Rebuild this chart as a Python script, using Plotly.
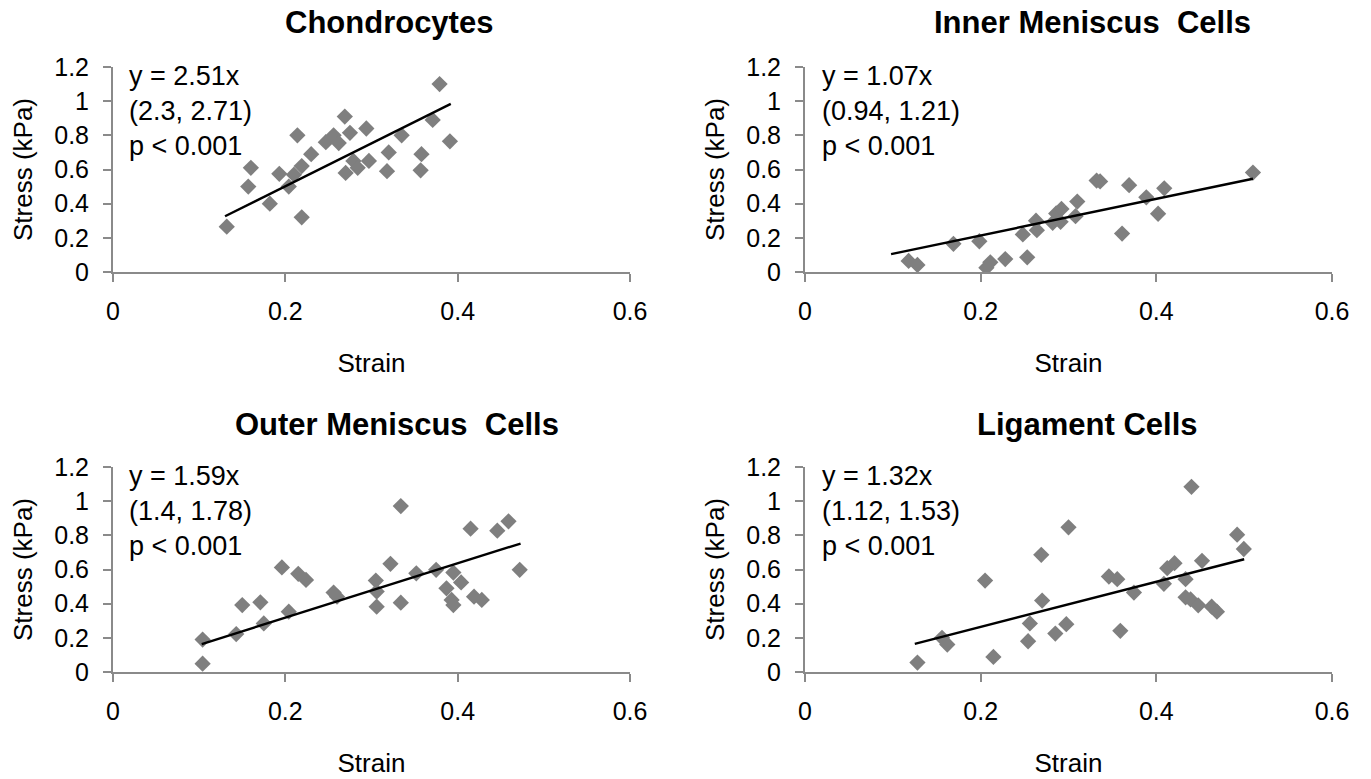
import plotly.graph_objects as go

# ---------------- data ----------------
titles = ["Chondrocytes", "Inner Meniscus\u00a0 Cells", "Outer Meniscus\u00a0 Cells", "Ligament Cells"]
slopes = [2.51, 1.07, 1.59, 1.32]
eq_text = ["y = 2.51x", "y = 1.07x", "y = 1.59x", "y = 1.32x"]
ci_text = ["(2.3, 2.71)", "(0.94, 1.21)", "(1.4, 1.78)", "(1.12, 1.53)"]
p_text = ["p < 0.001", "p < 0.001", "p < 0.001", "p < 0.001"]

chondro_strain = [0.132, 0.157, 0.160, 0.182, 0.193, 0.204, 0.210, 0.214, 0.219, 0.219,
                  0.230, 0.247, 0.256, 0.262, 0.269, 0.275, 0.270, 0.279, 0.284, 0.294,
                  0.297, 0.320, 0.318, 0.335, 0.358, 0.357, 0.371, 0.379, 0.391]
chondro_stress = [0.265, 0.50, 0.61, 0.40, 0.575, 0.50, 0.57, 0.80, 0.32, 0.62,
                  0.69, 0.76, 0.80, 0.755, 0.91, 0.815, 0.58, 0.65, 0.61, 0.84,
                  0.65, 0.70, 0.59, 0.80, 0.69, 0.595, 0.89, 1.10, 0.765]

inner_strain = [0.118, 0.128, 0.169, 0.1985, 0.2065, 0.211, 0.228, 0.253, 0.248, 0.263,
                0.264, 0.282, 0.286, 0.292, 0.291, 0.308, 0.310, 0.332, 0.336, 0.361,
                0.369, 0.3886, 0.402, 0.409, 0.510]
inner_stress = [0.065, 0.041, 0.165, 0.18, 0.025, 0.057, 0.076, 0.086, 0.22, 0.30,
                0.245, 0.288, 0.343, 0.369, 0.294, 0.327, 0.412, 0.535, 0.53, 0.225,
                0.508, 0.437, 0.341, 0.49, 0.582]

outer_strain = [0.104, 0.104, 0.143, 0.150, 0.171, 0.175, 0.196, 0.204, 0.215, 0.224,
                0.256, 0.260, 0.305, 0.306, 0.306, 0.322, 0.334, 0.334, 0.352, 0.375,
                0.387, 0.395, 0.393, 0.395, 0.404, 0.415, 0.419, 0.428, 0.446, 0.459,
                0.472]
outer_stress = [0.190, 0.049, 0.222, 0.392, 0.408, 0.284, 0.612, 0.353, 0.575, 0.539,
                0.465, 0.441, 0.535, 0.471, 0.382, 0.633, 0.971, 0.406, 0.578, 0.598,
                0.490, 0.582, 0.422, 0.392, 0.524, 0.839, 0.441, 0.422, 0.827, 0.882,
                0.598]

lig_strain = [0.128, 0.156, 0.162, 0.205, 0.2145, 0.254, 0.256, 0.269, 0.270, 0.285,
              0.2975, 0.300, 0.346, 0.3555, 0.359, 0.3745, 0.4086, 0.4124, 0.4207, 0.4333,
              0.4333, 0.440, 0.439, 0.4477, 0.452, 0.463, 0.469, 0.492, 0.4996]
lig_stress = [0.055, 0.200, 0.161, 0.535, 0.088, 0.180, 0.284, 0.686, 0.418, 0.225,
              0.280, 0.847, 0.559, 0.543, 0.241, 0.465, 0.516, 0.608, 0.637, 0.543,
              0.437, 1.084, 0.425, 0.390, 0.651, 0.382, 0.353, 0.804, 0.720]

fit_x_ranges = [[0.130, 0.392], [0.098, 0.510], [0.103, 0.473], [0.125, 0.500]]

x_tick_vals = [0, 0.2, 0.4, 0.6]
x_tick_text = ["0", "0.2", "0.4", "0.6"]
y_tick_vals = [0, 0.2, 0.4, 0.6, 0.8, 1.0, 1.2]
y_tick_text = ["0", "0.2", "0.4", "0.6", "0.8", "1", "1.2"]

strains = [chondro_strain, inner_strain, outer_strain, lig_strain]
stresses = [chondro_stress, inner_stress, outer_stress, lig_stress]

# ---------------- layout ----------------
W, H = 1371, 779
FONT = "Liberation Sans, Arial, sans-serif"


def fx_(px):
    return px / W


def fy_(py):
    return 1 - py / H


x_px = [(113, 630), (805, 1332), (113, 630), (805, 1332)]
y_px = [(272, 67), (272, 67), (672, 467), (672, 467)]
title_pos = [(389, 22), (1092, 23), (397, 424), (1087, 424)]

AXIS_COLOR = "#8a8a8a"
MARKER_COLOR = "#7f7f7f"

fig = go.Figure()
layout = dict(
    template="none",
    width=W, height=H,
    margin=dict(l=0, r=0, t=0, b=0, pad=0),
    paper_bgcolor="white", plot_bgcolor="white",
    showlegend=False,
    font=dict(family=FONT, color="black", size=22),
    annotations=[],
)

for i in range(4):
    sfx = "" if i == 0 else str(i + 1)
    xa, ya = "x" + sfx, "y" + sfx
    fig.add_trace(go.Scatter(
        x=strains[i], y=stresses[i], mode="markers",
        marker=dict(symbol="diamond", size=12.5, color=MARKER_COLOR, line=dict(width=0)),
        xaxis=xa, yaxis=ya, hoverinfo="x+y",
    ))
    fxr = fit_x_ranges[i]
    fig.add_trace(go.Scatter(
        x=fxr, y=[slopes[i] * v for v in fxr], mode="lines",
        line=dict(color="black", width=2.4),
        xaxis=xa, yaxis=ya, hoverinfo="skip",
    ))
    layout["xaxis" + sfx] = dict(
        domain=[fx_(x_px[i][0]), fx_(x_px[i][1])], anchor=ya, range=[0, 0.6], automargin=False,
        tickvals=x_tick_vals, ticktext=x_tick_text,
        showline=True, linecolor=AXIS_COLOR, linewidth=2,
        ticks="outside", ticklen=8, tickwidth=2, tickcolor=AXIS_COLOR,
        showgrid=False, zeroline=False,
        tickfont=dict(size=25, family=FONT, color="black"),
        ticklabelstandoff=8,
        title=dict(text="Strain", font=dict(size=26, family=FONT, color="black"), standoff=30),
        fixedrange=True,
    )
    layout["yaxis" + sfx] = dict(
        domain=[fy_(y_px[i][0]), fy_(y_px[i][1])], anchor=xa, range=[0, 1.2], automargin=False,
        tickvals=y_tick_vals, ticktext=y_tick_text,
        showline=True, linecolor=AXIS_COLOR, linewidth=2,
        ticks="outside", ticklen=8, tickwidth=2, tickcolor=AXIS_COLOR,
        showgrid=False, zeroline=False,
        tickfont=dict(size=25, family=FONT, color="black"),
        ticklabelstandoff=9,
        title=dict(text="Stress (kPa)", font=dict(size=26, family=FONT, color="black"), standoff=14),
        fixedrange=True,
    )
    tx, ty = title_pos[i]
    layout["annotations"].append(dict(
        text="<b>" + titles[i] + "</b>", x=fx_(tx), y=fy_(ty), xref="paper", yref="paper",
        xanchor="center", yanchor="middle", showarrow=False,
        font=dict(size=31, family=FONT, color="black"),
    ))
    layout["annotations"].append(dict(
        text=eq_text[i] + "<br>" + ci_text[i] + "<br>" + p_text[i],
        x=0.028, y=1.04, xref=xa + " domain", yref=ya + " domain",
        xanchor="left", yanchor="top", align="left", showarrow=False,
        font=dict(size=27, family=FONT, color="black"),
    ))

fig.update_layout(**layout)
fig.write_html("out.html", config={"displayModeBar": False},
               post_script="document.body.style.margin='0';")
